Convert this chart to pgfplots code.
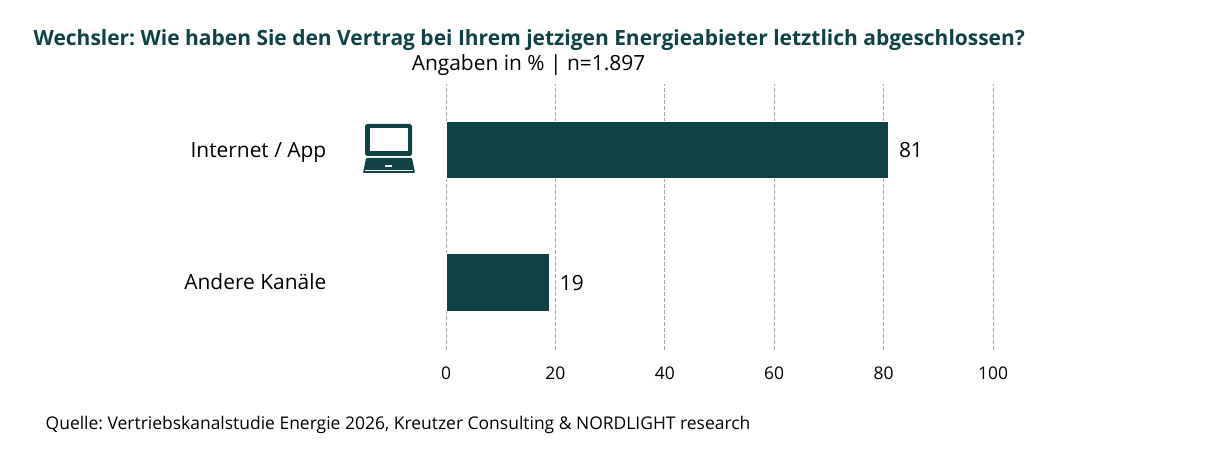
\documentclass[border=0pt]{standalone}
\usepackage{pgfplots}
\pgfplotsset{compat=1.18}
\usepackage{fontspec}
\setmainfont{Open Sans}
\definecolor{bar}{HTML}{104245}
\begin{document}
\frenchspacing
\begin{tikzpicture}
% page frame, same size as the reference
\path[use as bounding box] (0bp,0bp) rectangle (1221bp,451bp);
\begin{axis}[
    at={(446bp,101bp)},
    anchor=south west,
    width=547bp,
    height=266bp,
    scale only axis,
    xmin=0, xmax=100,
    ymin=-0.509, ymax=1.498,
    xtick={0,20,40,60,80,100},
    ytick={0,1},
    yticklabels={},
    xmajorgrids=true,
    grid style={dash pattern=on 3.5bp off 2.5bp,gray!70,line width=0.7pt},
    axis line style={draw=none},
    major tick length=0pt,
    xticklabel style={font=\fontsize{17.5}{20}\selectfont,text=black,yshift=-13bp},
    /pgf/number format/assume math mode=true,
    clip=false,
    point meta=x,
    nodes near coords,
    nodes near coords style={font=\fontsize{21}{25}\selectfont,text=black,anchor=west,xshift=6bp,yshift=-0.5bp},
]
\addplot[xbar,bar width=57.5bp,fill=bar,draw=white,line width=1.2bp] coordinates {(81,1)(19,0)};
\end{axis}
% category labels
\node[inner sep=0pt,anchor=base east,font=\fontsize{21}{25}\selectfont] at (326.5bp,293.5bp) {Internet / App};
\node[inner sep=0pt,anchor=base east,font=\fontsize{21}{25}\selectfont] at (326.5bp,161.5bp) {Andere Kanäle};
% laptop icon
\fill[bar,rounded corners=2.5bp] (365bp,295bp) rectangle (412bp,327bp);
\fill[white] (370bp,300bp) rectangle (408bp,323bp);
\fill[bar,rounded corners=1bp] (363bp,278bp) -- (415bp,278bp) -- (412bp,293bp) -- (366bp,293bp) -- cycle;
\fill[white] (365bp,280bp) rectangle (413bp,281.3bp);
\fill[white] (385bp,283.5bp) rectangle (392bp,286bp);
\node[inner sep=0pt,anchor=base west,text=bar,font=\fontsize{21.05}{25}\selectfont\bfseries] at (33.5bp,405.5bp) {Wechsler: Wie haben Sie den Vertrag bei Ihrem jetzigen Energieabieter letztlich abgeschlossen?};
\node[inner sep=0pt,anchor=base,font=\fontsize{21}{25}\selectfont] at (528.5bp,380.5bp) {Angaben in \% | n=1.897};
\node[inner sep=0pt,anchor=base west,font=\fontsize{17.53}{20}\selectfont] at (45.5bp,22bp) {Quelle: Vertriebskanalstudie Energie 2026, Kreutzer Consulting \& NORDLIGHT research};
\end{tikzpicture}
\end{document}
